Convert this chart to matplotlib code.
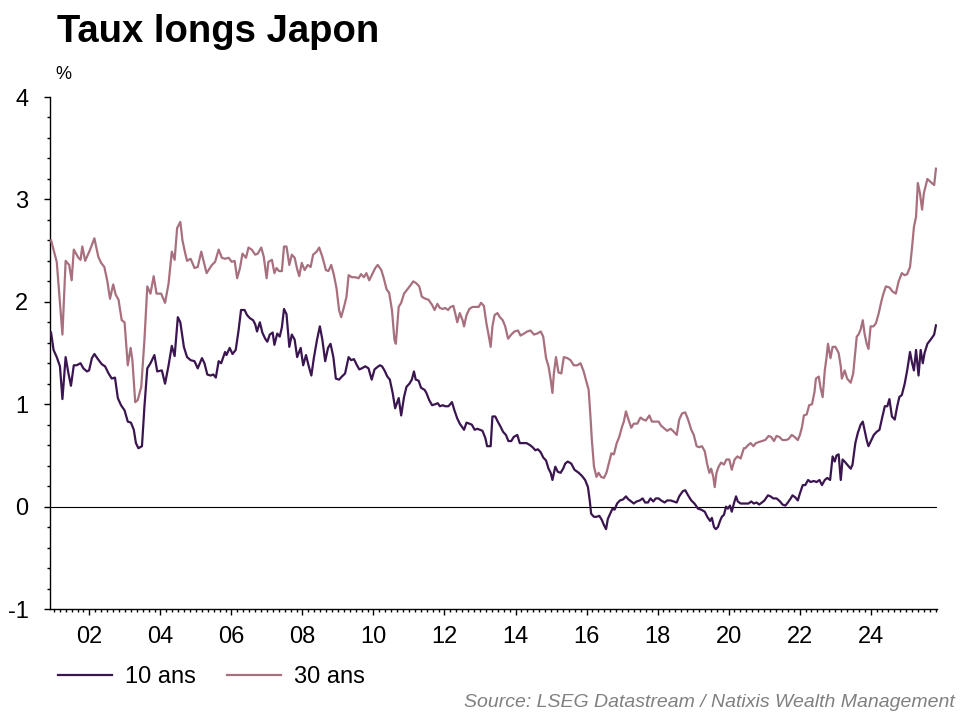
import matplotlib
matplotlib.use("Agg")
import matplotlib.pyplot as plt
from matplotlib.ticker import MultipleLocator, FuncFormatter

plt.rcParams['font.family'] = ['Liberation Sans', 'DejaVu Sans']

# Taux 10 ans (decimal years, %)
years_10 = [
    2000.92, 2000.99, 2001.08, 2001.17, 2001.24, 2001.33, 2001.41, 2001.48, 2001.56, 2001.64,
    2001.75, 2001.83, 2001.93, 2001.99, 2002.07, 2002.14, 2002.24, 2002.35, 2002.44, 2002.54,
    2002.63, 2002.72, 2002.80, 2002.89, 2002.99, 2003.08, 2003.17, 2003.25, 2003.31, 2003.38,
    2003.48, 2003.55, 2003.63, 2003.72, 2003.83, 2003.91, 2004.04, 2004.13, 2004.23, 2004.32,
    2004.40, 2004.49, 2004.56, 2004.66, 2004.75, 2004.85, 2004.96, 2005.05, 2005.17, 2005.24,
    2005.32, 2005.41, 2005.49, 2005.56, 2005.64, 2005.71, 2005.82,
    2005.86, 2005.95, 2006.03, 2006.12, 2006.20, 2006.27, 2006.37, 2006.44, 2006.52, 2006.61,
    2006.67, 2006.72, 2006.80, 2006.87, 2006.95, 2007.01, 2007.08, 2007.16, 2007.21, 2007.29,
    2007.36, 2007.42, 2007.48, 2007.55, 2007.63, 2007.70, 2007.78, 2007.85, 2007.95, 2008.02,
    2008.10, 2008.17, 2008.25, 2008.32, 2008.41, 2008.49, 2008.56, 2008.64, 2008.72, 2008.79,
    2008.87, 2008.94, 2009.03, 2009.11, 2009.20, 2009.30, 2009.37, 2009.45, 2009.52, 2009.60,
    2009.67, 2009.77, 2009.86, 2009.95, 2010.03, 2010.10, 2010.18, 2010.24, 2010.31, 2010.39,
    2010.46, 2010.54, 2010.61,
    2010.71, 2010.78, 2010.86, 2010.93, 2011.01, 2011.08, 2011.14, 2011.19, 2011.27, 2011.34,
    2011.44, 2011.49, 2011.57, 2011.65, 2011.74, 2011.81, 2011.87, 2011.95, 2012.02, 2012.11,
    2012.21, 2012.28, 2012.36, 2012.43, 2012.49, 2012.55, 2012.62, 2012.70, 2012.77, 2012.85,
    2012.92, 2013.00, 2013.07, 2013.15, 2013.20, 2013.30, 2013.35, 2013.43, 2013.50, 2013.58,
    2013.65, 2013.73, 2013.80, 2013.88, 2013.95, 2014.05, 2014.12, 2014.22, 2014.31, 2014.41,
    2014.48, 2014.56, 2014.63, 2014.71, 2014.78, 2014.86, 2014.93, 2014.99, 2015.04, 2015.12,
    2015.19, 2015.27, 2015.34, 2015.40,
    2015.47, 2015.57, 2015.66, 2015.78, 2015.87, 2015.96, 2016.04, 2016.09, 2016.13, 2016.21,
    2016.28, 2016.36, 2016.43, 2016.49, 2016.55, 2016.60, 2016.68, 2016.73, 2016.79, 2016.86,
    2016.94, 2017.03, 2017.11, 2017.18, 2017.26, 2017.33, 2017.41, 2017.50, 2017.58, 2017.65,
    2017.73, 2017.80, 2017.88, 2017.95, 2018.03, 2018.10, 2018.20, 2018.27, 2018.37, 2018.46,
    2018.54, 2018.61, 2018.71, 2018.78, 2018.86, 2018.95, 2019.04, 2019.14, 2019.23, 2019.33,
    2019.40, 2019.48, 2019.53, 2019.59, 2019.64, 2019.70, 2019.76, 2019.81, 2019.87, 2019.93,
    2019.98, 2020.04, 2020.09, 2020.15, 2020.21, 2020.26, 2020.34, 2020.43,
    2020.47, 2020.56, 2020.64, 2020.71, 2020.79, 2020.86, 2020.94, 2021.01, 2021.11, 2021.18,
    2021.26, 2021.35, 2021.45, 2021.52, 2021.60, 2021.67, 2021.75, 2021.80, 2021.88, 2021.95,
    2022.01, 2022.09, 2022.16, 2022.24, 2022.31, 2022.40, 2022.48, 2022.56, 2022.63, 2022.71,
    2022.78, 2022.86, 2022.93, 2022.99, 2023.04, 2023.10, 2023.16, 2023.21, 2023.27, 2023.34,
    2023.44, 2023.49, 2023.57, 2023.64, 2023.72, 2023.78, 2023.83, 2023.89, 2023.94, 2024.02,
    2024.09, 2024.17, 2024.25, 2024.32, 2024.40, 2024.47, 2024.53, 2024.60, 2024.68, 2024.75,
    2024.81, 2024.88, 2024.96, 2025.03, 2025.11, 2025.17, 2025.22, 2025.28, 2025.35, 2025.41,
    2025.47, 2025.52, 2025.60, 2025.69, 2025.79, 2025.84,
]
rate_10 = [
    1.70, 1.53, 1.46, 1.37, 1.05, 1.46, 1.30, 1.18, 1.38, 1.38,
    1.40, 1.35, 1.32, 1.33, 1.45, 1.49, 1.44, 1.39, 1.37, 1.30,
    1.25, 1.26, 1.06, 0.99, 0.94, 0.83, 0.82, 0.75, 0.62, 0.57,
    0.59, 0.98, 1.35, 1.40, 1.48, 1.32, 1.33, 1.20, 1.38, 1.57,
    1.47, 1.85, 1.80, 1.56, 1.46, 1.43, 1.42, 1.35, 1.45, 1.40,
    1.29, 1.28, 1.29, 1.26, 1.42, 1.40, 1.51,
    1.48, 1.55, 1.49, 1.53, 1.72, 1.92, 1.92, 1.87, 1.84, 1.82,
    1.78, 1.71, 1.80, 1.70, 1.64, 1.61, 1.68, 1.70, 1.58, 1.69,
    1.66, 1.75, 1.93, 1.88, 1.56, 1.68, 1.63, 1.46, 1.55, 1.38,
    1.48, 1.38, 1.28, 1.45, 1.63, 1.76, 1.63, 1.42, 1.55, 1.59,
    1.46, 1.25, 1.24, 1.27, 1.30, 1.46, 1.43, 1.44, 1.39, 1.34,
    1.35, 1.37, 1.35, 1.24, 1.34, 1.36, 1.38, 1.37, 1.33, 1.27,
    1.24, 1.11, 0.96,
    1.06, 0.89, 1.07, 1.17, 1.20, 1.24, 1.32, 1.24, 1.23, 1.16,
    1.14, 1.11, 1.04, 0.99, 1.00, 1.01, 0.98, 0.99, 0.98, 0.98,
    1.02, 0.94, 0.86, 0.81, 0.78, 0.75, 0.82, 0.81, 0.80, 0.75,
    0.76, 0.75, 0.74, 0.67, 0.59, 0.59, 0.88, 0.88, 0.83, 0.78,
    0.73, 0.70, 0.64, 0.64, 0.68, 0.70, 0.62, 0.62, 0.62, 0.60,
    0.58, 0.55, 0.56, 0.53, 0.48, 0.45, 0.37, 0.33, 0.26, 0.39,
    0.34, 0.33, 0.37, 0.42,
    0.44, 0.42, 0.36, 0.33, 0.30, 0.26, 0.19, 0.06, -0.07, -0.10,
    -0.10, -0.09, -0.13, -0.18, -0.22, -0.12, -0.06, -0.02, -0.03, 0.03,
    0.06, 0.07, 0.10, 0.07, 0.05, 0.03, 0.05, 0.06, 0.08, 0.04,
    0.04, 0.08, 0.05, 0.08, 0.08, 0.06, 0.04, 0.06, 0.06, 0.05,
    0.04, 0.10, 0.15, 0.16, 0.11, 0.06, 0.03, -0.02, -0.03, -0.05,
    -0.10, -0.14, -0.11, -0.20, -0.22, -0.20, -0.14, -0.10, -0.08, 0.00,
    -0.02, 0.01, -0.05, 0.03, 0.10, 0.05, 0.03, 0.03,
    0.03, 0.03, 0.05, 0.03, 0.04, 0.02, 0.04, 0.06, 0.11, 0.10,
    0.08, 0.08, 0.05, 0.02, 0.01, 0.04, 0.08, 0.11, 0.09, 0.06,
    0.13, 0.21, 0.21, 0.26, 0.24, 0.25, 0.24, 0.26, 0.21, 0.26,
    0.28, 0.26, 0.49, 0.44, 0.50, 0.51, 0.26, 0.46, 0.44, 0.41,
    0.37, 0.41, 0.62, 0.72, 0.80, 0.83, 0.75, 0.65, 0.59, 0.65,
    0.70, 0.73, 0.75, 0.86, 0.98, 0.98, 1.05, 0.88, 0.85, 0.98,
    1.07, 1.09, 1.20, 1.33, 1.51, 1.40, 1.33, 1.53, 1.28, 1.53,
    1.40, 1.50, 1.59, 1.63, 1.68, 1.77,
]

# Taux 30 ans (decimal years, %)
years_30 = [
    2000.92, 2001.08, 2001.24, 2001.33, 2001.43, 2001.50, 2001.56, 2001.69, 2001.75, 2001.80,
    2001.88, 2002.02, 2002.14, 2002.25, 2002.33, 2002.42, 2002.50, 2002.58, 2002.67, 2002.74,
    2002.82, 2002.91, 2002.99, 2003.08, 2003.16, 2003.21, 2003.29, 2003.36, 2003.46, 2003.55,
    2003.63, 2003.72, 2003.81, 2003.89, 2004.02, 2004.13, 2004.23, 2004.32, 2004.40, 2004.47,
    2004.56, 2004.62, 2004.70, 2004.75, 2004.85, 2004.96, 2005.05, 2005.15, 2005.30, 2005.45,
    2005.54, 2005.64, 2005.73, 2005.82,
    2005.92, 2006.01, 2006.09, 2006.16, 2006.24, 2006.31, 2006.41, 2006.48, 2006.57, 2006.67,
    2006.74, 2006.84, 2006.91, 2006.99, 2007.04, 2007.14, 2007.21, 2007.27, 2007.34, 2007.42,
    2007.48, 2007.55, 2007.63, 2007.70, 2007.78, 2007.85, 2007.91, 2007.98, 2008.06, 2008.15,
    2008.23, 2008.30, 2008.40, 2008.47, 2008.56, 2008.66, 2008.73, 2008.81, 2008.88, 2008.96,
    2009.03, 2009.09, 2009.17, 2009.24, 2009.30, 2009.39, 2009.49, 2009.58, 2009.65, 2009.73,
    2009.80, 2009.88, 2009.95, 2010.05, 2010.12, 2010.22, 2010.29, 2010.37, 2010.44, 2010.52,
    2010.59,
    2010.63, 2010.71, 2010.78, 2010.86, 2010.95, 2011.04, 2011.12, 2011.21, 2011.29, 2011.36,
    2011.46, 2011.55, 2011.65, 2011.72, 2011.80, 2011.87, 2011.95, 2012.02, 2012.10, 2012.17,
    2012.25, 2012.30, 2012.36, 2012.43, 2012.51, 2012.55, 2012.62, 2012.70, 2012.79, 2012.88,
    2012.96, 2013.03, 2013.11, 2013.18, 2013.24, 2013.30, 2013.35, 2013.41, 2013.49, 2013.56,
    2013.64, 2013.71, 2013.79, 2013.88, 2013.97, 2014.07, 2014.14, 2014.24, 2014.33, 2014.42,
    2014.52, 2014.61, 2014.71, 2014.78, 2014.86, 2014.93, 2014.99, 2015.04, 2015.08, 2015.14,
    2015.21, 2015.29, 2015.36,
    2015.46, 2015.55, 2015.64, 2015.74, 2015.83, 2015.91, 2015.98, 2016.06, 2016.11, 2016.15,
    2016.21, 2016.28, 2016.34, 2016.41, 2016.49, 2016.56, 2016.64, 2016.70, 2016.77, 2016.85,
    2016.92, 2017.00, 2017.05, 2017.11, 2017.18, 2017.26, 2017.33, 2017.43, 2017.52, 2017.60,
    2017.67, 2017.77, 2017.84, 2017.94, 2018.03, 2018.10, 2018.20, 2018.27, 2018.37, 2018.46,
    2018.54, 2018.61, 2018.69, 2018.78, 2018.86, 2018.95, 2019.02, 2019.10, 2019.17, 2019.25,
    2019.33, 2019.40, 2019.46, 2019.51, 2019.57, 2019.61, 2019.66, 2019.72, 2019.79, 2019.87,
    2019.94, 2020.02, 2020.09, 2020.17, 2020.25, 2020.34, 2020.43,
    2020.47, 2020.55, 2020.62, 2020.70, 2020.77, 2020.85, 2020.94, 2021.03, 2021.13, 2021.20,
    2021.28, 2021.35, 2021.43, 2021.52, 2021.62, 2021.69, 2021.78, 2021.86, 2021.95, 2022.01,
    2022.07, 2022.12, 2022.20, 2022.27, 2022.35, 2022.42, 2022.46, 2022.54, 2022.59, 2022.65,
    2022.71, 2022.76, 2022.80, 2022.87, 2022.93, 2023.01, 2023.10, 2023.16, 2023.19, 2023.27,
    2023.34, 2023.44, 2023.51, 2023.61, 2023.66, 2023.72, 2023.78, 2023.83, 2023.89, 2023.94,
    2024.00, 2024.08, 2024.15, 2024.23, 2024.30, 2024.36, 2024.43, 2024.53, 2024.62, 2024.71,
    2024.79, 2024.88, 2024.96, 2025.03, 2025.11, 2025.17, 2025.22, 2025.28, 2025.33, 2025.39,
    2025.45, 2025.50, 2025.60, 2025.69, 2025.79, 2025.84,
]
rate_30 = [
    2.60, 2.39, 1.68, 2.40, 2.36, 2.21, 2.51, 2.43, 2.41, 2.54,
    2.40, 2.51, 2.62, 2.44, 2.38, 2.34, 2.21, 2.03, 2.17, 2.07,
    2.02, 1.82, 1.80, 1.38, 1.55, 1.43, 1.02, 1.04, 1.17, 1.63,
    2.15, 2.08, 2.25, 2.08, 2.08, 1.99, 2.18, 2.49, 2.41, 2.72,
    2.78, 2.60, 2.47, 2.40, 2.42, 2.33, 2.34, 2.49, 2.28, 2.36,
    2.39, 2.51, 2.43, 2.42,
    2.43, 2.39, 2.40, 2.23, 2.33, 2.47, 2.43, 2.53, 2.51, 2.46,
    2.47, 2.53, 2.44, 2.23, 2.39, 2.41, 2.28, 2.33, 2.30, 2.30,
    2.54, 2.54, 2.36, 2.46, 2.43, 2.32, 2.25, 2.38, 2.31, 2.36,
    2.34, 2.46, 2.49, 2.53, 2.44, 2.31, 2.30, 2.36, 2.27, 2.13,
    1.92, 1.85, 1.95, 2.05, 2.26, 2.24, 2.24, 2.23, 2.27, 2.24,
    2.28, 2.21, 2.26, 2.33, 2.36, 2.31, 2.23, 2.12, 2.09, 1.92,
    1.63,
    1.59, 1.95, 1.99, 2.08, 2.12, 2.16, 2.20, 2.18, 2.15, 2.05,
    2.03, 2.02, 1.97, 1.92, 1.98, 1.94, 1.93, 1.94, 1.92, 1.95,
    1.96, 1.89, 1.80, 1.89, 1.82, 1.76, 1.87, 1.93, 1.95, 1.95,
    1.95, 1.99, 1.96, 1.79, 1.68, 1.56, 1.76, 1.87, 1.89, 1.85,
    1.82, 1.76, 1.64, 1.68, 1.71, 1.72, 1.67, 1.69, 1.71, 1.72,
    1.68, 1.69, 1.71, 1.66, 1.45, 1.37, 1.24, 1.11, 1.30, 1.46,
    1.31, 1.30, 1.46,
    1.45, 1.43, 1.38, 1.38, 1.40, 1.33, 1.24, 1.14, 0.88, 0.65,
    0.39, 0.29, 0.33, 0.29, 0.28, 0.33, 0.44, 0.52, 0.51, 0.62,
    0.68, 0.78, 0.83, 0.93, 0.85, 0.77, 0.81, 0.81, 0.87, 0.85,
    0.84, 0.89, 0.83, 0.83, 0.83, 0.79, 0.76, 0.74, 0.76, 0.73,
    0.70, 0.85, 0.91, 0.92, 0.85, 0.75, 0.70, 0.59, 0.58, 0.59,
    0.54, 0.41, 0.33, 0.37, 0.29, 0.19, 0.33, 0.39, 0.43, 0.41,
    0.46, 0.46, 0.36, 0.46, 0.49, 0.47, 0.57,
    0.57, 0.60, 0.62, 0.59, 0.62, 0.63, 0.64, 0.65, 0.69, 0.68,
    0.64, 0.69, 0.68, 0.65, 0.65, 0.66, 0.70, 0.68, 0.65, 0.70,
    0.78, 0.89, 0.90, 0.99, 1.00, 1.12, 1.25, 1.27, 1.16, 1.07,
    1.33, 1.46, 1.59, 1.45, 1.56, 1.56, 1.50, 1.37, 1.25, 1.33,
    1.25, 1.21, 1.30, 1.66, 1.68, 1.73, 1.82, 1.69, 1.59, 1.54,
    1.76, 1.76, 1.79, 1.89, 2.00, 2.08, 2.15, 2.14, 2.10, 2.08,
    2.20, 2.28, 2.26, 2.27, 2.34, 2.54, 2.73, 2.83, 3.16, 3.06,
    2.90, 3.06, 3.20, 3.17, 3.14, 3.30,
]

color_10 = '#3a1550'
color_30 = '#a8707e'

fig = plt.figure(figsize=(9.6, 7.2), dpi=100)
ax = fig.add_axes([50 / 960, 1 - 609 / 720, 887 / 960, 512 / 720])

ax.plot(years_30, rate_30, color=color_30, linewidth=1.6, label='30 ans', zorder=3)
ax.plot(years_10, rate_10, color=color_10, linewidth=1.6, label='10 ans', zorder=4)
ax.axhline(0, color='black', linewidth=0.8, zorder=2)

ax.set_xlim(2000.89, 2025.87)
ax.set_ylim(-1, 4)

for side in ['top', 'right']:
    ax.spines[side].set_visible(False)
for side in ['left', 'bottom']:
    ax.spines[side].set_linewidth(1.0)
    ax.spines[side].set_color('black')

ax.yaxis.set_major_locator(MultipleLocator(1))
ax.yaxis.set_minor_locator(MultipleLocator(0.2))
ax.xaxis.set_major_locator(MultipleLocator(2))
ax.xaxis.set_minor_locator(MultipleLocator(1 / 6))
ax.xaxis.set_major_formatter(FuncFormatter(lambda v, p: f"{int(round(v)) % 100:02d}"))
ax.yaxis.set_major_formatter(FuncFormatter(lambda v, p: f"{int(round(v))}"))

ax.tick_params(axis='y', which='major', direction='out', length=4.5, width=1, labelsize=17, pad=11)
ax.tick_params(axis='y', which='minor', direction='out', length=2, width=1)
ax.tick_params(axis='x', which='major', direction='out', length=4, width=1, labelsize=17, pad=8)
ax.tick_params(axis='x', which='minor', direction='out', length=2, width=1)

fig.text(57 / 960, 1 - 42 / 720, 'Taux longs Japon', fontsize=27.5, fontweight='bold',
         ha='left', va='baseline')
fig.text(55 / 960, 1 - 79 / 720, '%', fontsize=13, ha='left', va='baseline')

handles, labels = ax.get_legend_handles_labels()
leg = fig.legend(handles[::-1], labels[::-1], loc='center left',
                 bbox_to_anchor=(58 / 960, 1 - 677 / 720), ncol=2, frameon=False,
                 fontsize=17, handlelength=2.3, handletextpad=0.55, columnspacing=1.3,
                 borderaxespad=0, borderpad=0)
for line in leg.get_lines():
    line.set_linewidth(1.6)

fig.text(955 / 960, 1 - 707 / 720, 'Source: LSEG Datastream / Natixis Wealth Management',
         fontsize=14, style='italic', color='#808080', ha='right', va='baseline')

fig.savefig('out.png', dpi=100)
